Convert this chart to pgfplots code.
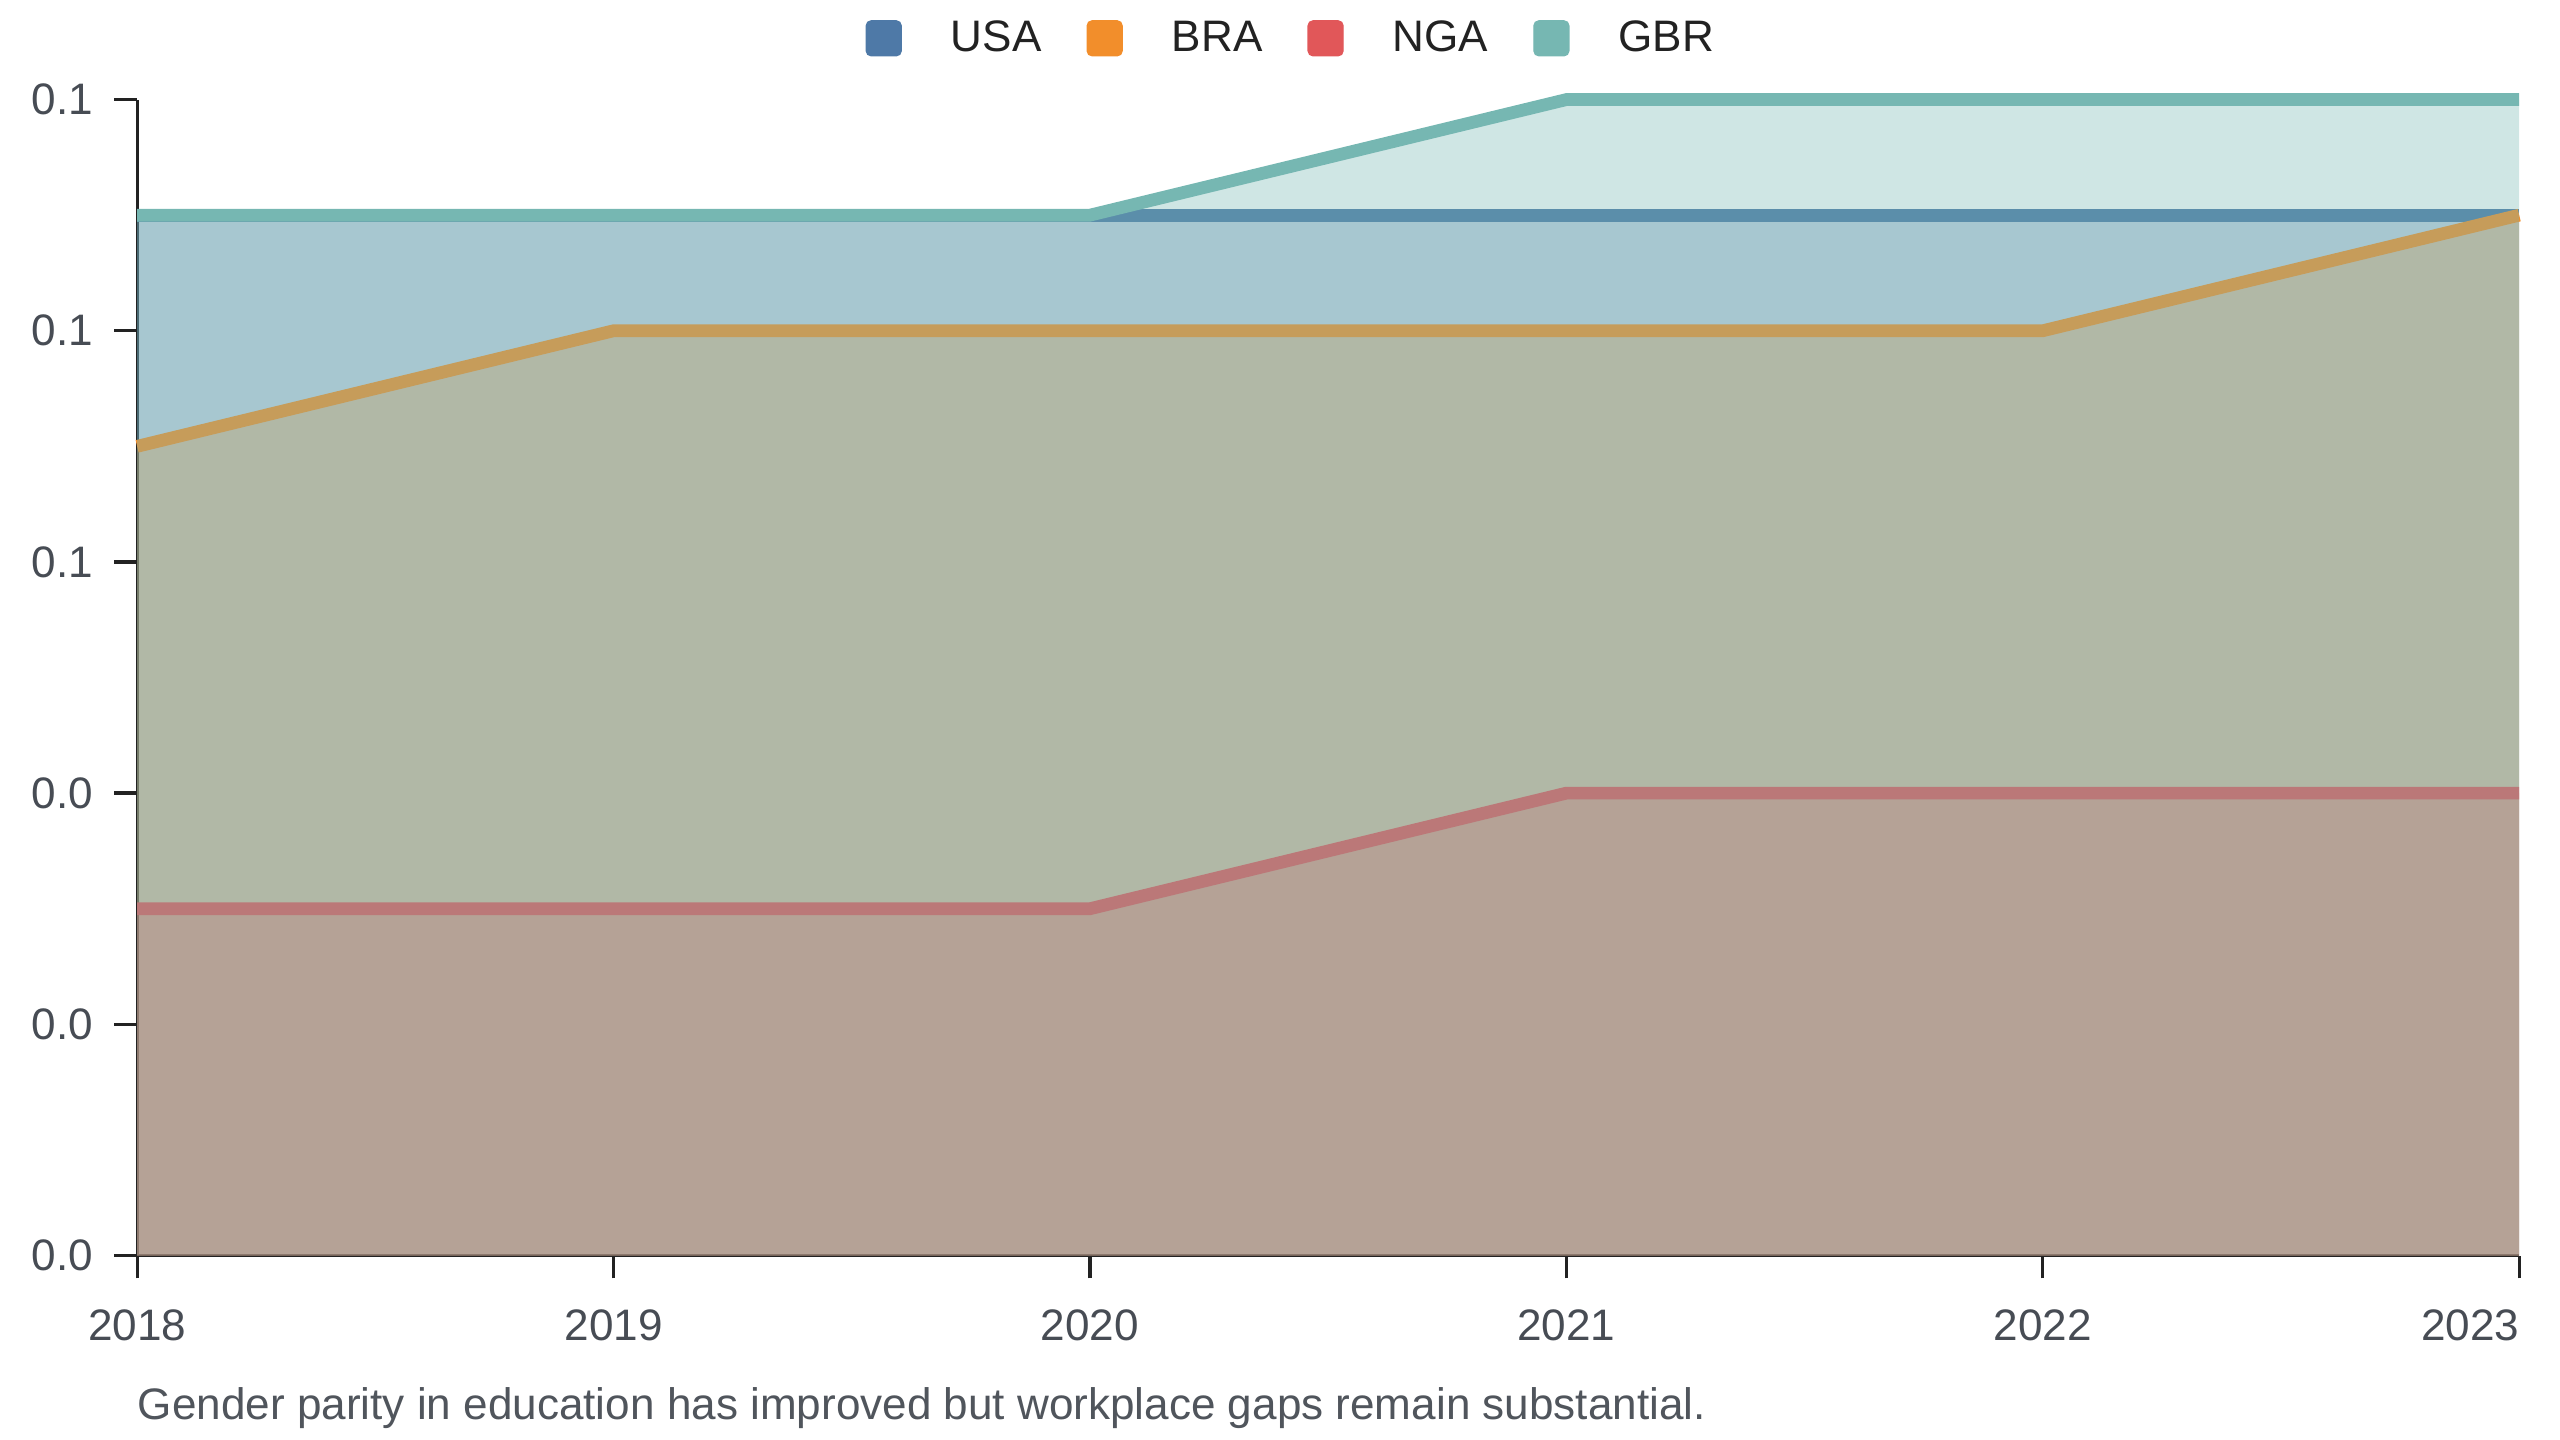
\documentclass[border=0pt]{standalone}
\usepackage{fontspec}
\setmainfont{Liberation Sans}
\usepackage{pgfplots}
\usepackage{pgfplotstable}
\pgfplotsset{compat=1.18}
\definecolor{usacol}{HTML}{4E79A7}
\definecolor{bracol}{HTML}{F28E2B}
\definecolor{ngacol}{HTML}{E15759}
\definecolor{gbrcol}{HTML}{76B7B2}
\definecolor{axiscol}{HTML}{222222}
\definecolor{tickcol}{HTML}{474C54}
\definecolor{legcol}{HTML}{222222}
\definecolor{capcol}{HTML}{50555C}
\newcommand{\chartfont}{\fontsize{13.5}{16}\selectfont}
\pgfplotstableread{
year usa bra nga gbr
2018 0.09 0.07 0.03 0.09
2019 0.09 0.08 0.03 0.09
2020 0.09 0.08 0.03 0.09
2021 0.09 0.08 0.04 0.10
2022 0.09 0.08 0.04 0.10
2023 0.09 0.09 0.04 0.10
}\datatable
\begin{document}
\begin{tikzpicture}
\path[use as bounding box] (0pt,0pt) rectangle (784pt,441pt);
\begin{axis}[
  at={(42pt,56.5pt)}, anchor=south west,
  scale only axis, width=729.5pt, height=354pt,
  xmin=2018, xmax=2023, ymin=0, ymax=0.1,
  axis x line*=bottom, axis y line*=left,
  axis line style={draw=axiscol, line width=1pt},
  tick align=outside, major tick length=7pt,
  tick style={draw=axiscol, line width=1pt},
  xtick={2018,2019,2020,2021,2022,2023},
  xticklabels={2018,2019,2020,2021,2022,{\llap{2023}}},
  ytick={0,0.02,0.04,0.06,0.08,0.1},
  yticklabels={0.0,0.0,0.0,0.1,0.1,0.1},
  ticklabel style={font=\chartfont, text=tickcol},
  xticklabel style={yshift=-6pt},
  yticklabel style={xshift=-3pt},
  clip=false,
  legend columns=4,
  legend style={at={(axis description cs:0.4839,1.053)}, anchor=center,
    draw=none, fill=none, inner sep=0pt, font=\chartfont, text=legcol,
    nodes={inner sep=0pt},
    /tikz/every odd column/.style={column sep=15pt},
    /tikz/every even column/.style={column sep=13.8pt}},
]
\addlegendimage{legend image code/.code={\fill[usacol,fill opacity=1,rounded corners=1.5pt] (0pt,-5.35pt) rectangle (10.7pt,5.35pt);}}
\addlegendentry{USA}
\addlegendimage{legend image code/.code={\fill[bracol,fill opacity=1,rounded corners=1.5pt] (0pt,-5.35pt) rectangle (10.7pt,5.35pt);}}
\addlegendentry{BRA}
\addlegendimage{legend image code/.code={\fill[ngacol,fill opacity=1,rounded corners=1.5pt] (0pt,-5.35pt) rectangle (10.7pt,5.35pt);}}
\addlegendentry{NGA}
\addlegendimage{legend image code/.code={\fill[gbrcol,fill opacity=1,rounded corners=1.5pt] (0pt,-5.35pt) rectangle (10.7pt,5.35pt);}}
\addlegendentry{GBR}

\addplot[forget plot, draw=none, fill=usacol, fill opacity=0.35] table[x=year,y=usa]{\datatable} \closedcycle;
\addplot[forget plot, draw=usacol, line width=3.9pt, mark=none] table[x=year,y=usa]{\datatable};
\addplot[forget plot, draw=none, fill=bracol, fill opacity=0.35] table[x=year,y=bra]{\datatable} \closedcycle;
\addplot[forget plot, draw=bracol, line width=3.9pt, mark=none] table[x=year,y=bra]{\datatable};
\addplot[forget plot, draw=none, fill=ngacol, fill opacity=0.35] table[x=year,y=nga]{\datatable} \closedcycle;
\addplot[forget plot, draw=ngacol, line width=3.9pt, mark=none] table[x=year,y=nga]{\datatable};
\addplot[forget plot, draw=none, fill=gbrcol, fill opacity=0.35] table[x=year,y=gbr]{\datatable} \closedcycle;
\addplot[forget plot, draw=gbrcol, line width=3.9pt, mark=none] table[x=year,y=gbr]{\datatable};
\end{axis}
\node[anchor=base west, inner sep=0pt, font=\chartfont, text=capcol] at (42pt,6.2pt) {Gender parity in education has improved but workplace gaps remain substantial.};
\end{tikzpicture}
\end{document}
